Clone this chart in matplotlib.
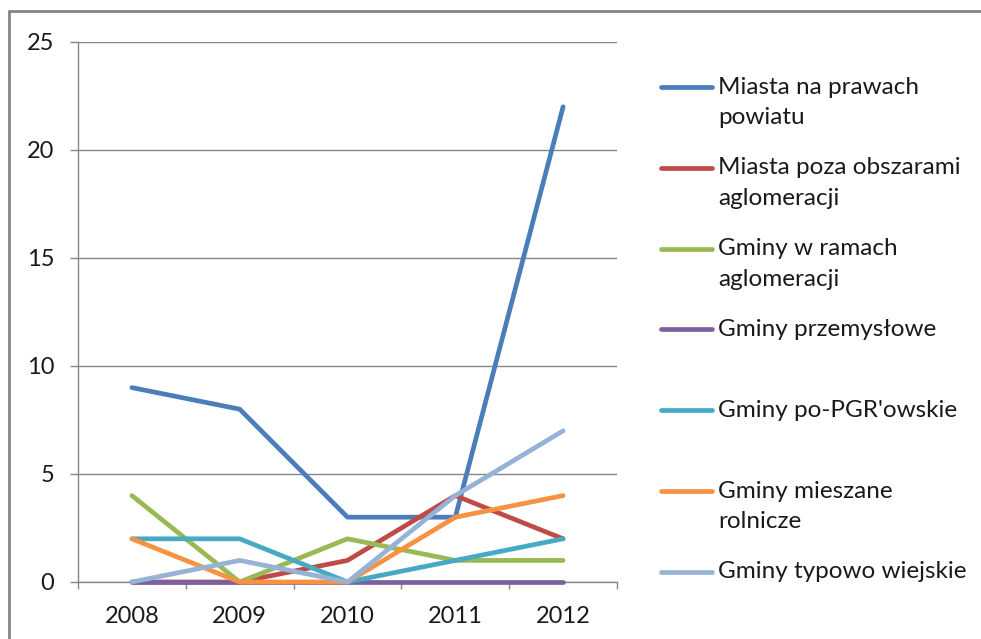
import matplotlib
matplotlib.use("Agg")
import matplotlib.pyplot as plt
from matplotlib.lines import Line2D
from matplotlib.patches import Rectangle

# categories and series
years = ["2008", "2009", "2010", "2011", "2012"]
series_names = [
    "Miasta na prawach\npowiatu",
    "Miasta poza obszarami\naglomeracji",
    "Gminy w ramach\naglomeracji",
    "Gminy przemysłowe",
    "Gminy po-PGR'owskie",
    "Gminy mieszane\nrolnicze",
    "Gminy typowo wiejskie",
]
miasta_powiat = [9, 8, 3, 3, 22]
miasta_poza = [0, 0, 1, 4, 2]
gminy_aglo = [4, 0, 2, 1, 1]
gminy_przem = [0, 0, 0, 0, 0]
gminy_pgr = [2, 2, 0, 1, 2]
gminy_miesz = [2, 0, 0, 3, 4]
gminy_wiejskie = [0, 1, 0, 4, 7]
y_ticks = [0, 5, 10, 15, 20, 25]

colors = ["#4A7EBB", "#BE4B48", "#98B954", "#7D60A0", "#46AAC5", "#F69240", "#95B3D7"]
all_series = [miasta_powiat, miasta_poza, gminy_aglo, gminy_przem,
              gminy_pgr, gminy_miesz, gminy_wiejskie]

plt.rcParams['font.family'] = ['Lato', 'DejaVu Sans']
W, H = 981, 639
fig = plt.figure(figsize=(W / 100, H / 100), dpi=100)
ax = fig.add_axes([78 / W, 1 - 582 / H, (617 - 78) / W, (582 - 42) / H])

grid_col = "#868686"
txt_col = "#1a1a1a"
x = list(range(len(years)))
for vals, col in zip(all_series, colors):
    ax.plot(x, vals, color=col, lw=3.4, solid_capstyle='round',
            solid_joinstyle='round', zorder=3, clip_on=False)

ax.set_xlim(-0.5, len(years) - 0.5)
ax.set_ylim(0, 25)
ax.set_yticks(y_ticks)
ax.set_yticklabels([str(v) for v in y_ticks])
ax.set_xticks(x)
ax.set_xticklabels(years)
ax.set_xticks([i - 0.5 for i in range(len(years) + 1)], minor=True)
ax.yaxis.grid(True, color=grid_col, lw=1.0)
ax.set_axisbelow(True)

for side in ["top", "right"]:
    ax.spines[side].set_visible(False)
for side in ["left", "bottom"]:
    ax.spines[side].set_color(grid_col)
    ax.spines[side].set_linewidth(1.0)
    ax.spines[side].set_zorder(1)

ax.tick_params(axis='y', length=6, color=grid_col, width=1.0, pad=11,
               labelsize=17, labelcolor=txt_col)
ax.tick_params(axis='x', which='major', length=0, pad=17,
               labelsize=17, labelcolor=txt_col)
ax.tick_params(axis='x', which='minor', length=5, color=grid_col, width=1.0)

# outer chart border
fig.patches.append(Rectangle((9 / W, -0.1), 1.2, 1 - 11 / H + 0.1,
                             transform=fig.transFigure, fill=False,
                             edgecolor=grid_col, lw=2.0))

# legend drawn by hand so the key line sits on the first text line
top_px, step_px, line_px = 87, 80.8, 31
for i, (name, col) in enumerate(zip(series_names, colors)):
    y = top_px + i * step_px
    fig.lines.append(Line2D([661 / W, 712 / W], [1 - y / H, 1 - y / H],
                            transform=fig.transFigure, color=col, lw=3.4,
                            solid_capstyle='round'))
    for j, part in enumerate(name.split("\n")):
        fig.text(718 / W, 1 - (y + j * line_px) / H, part, fontsize=17.5,
                 va='center', ha='left', color=txt_col)

fig.savefig("out.png", dpi=100)
